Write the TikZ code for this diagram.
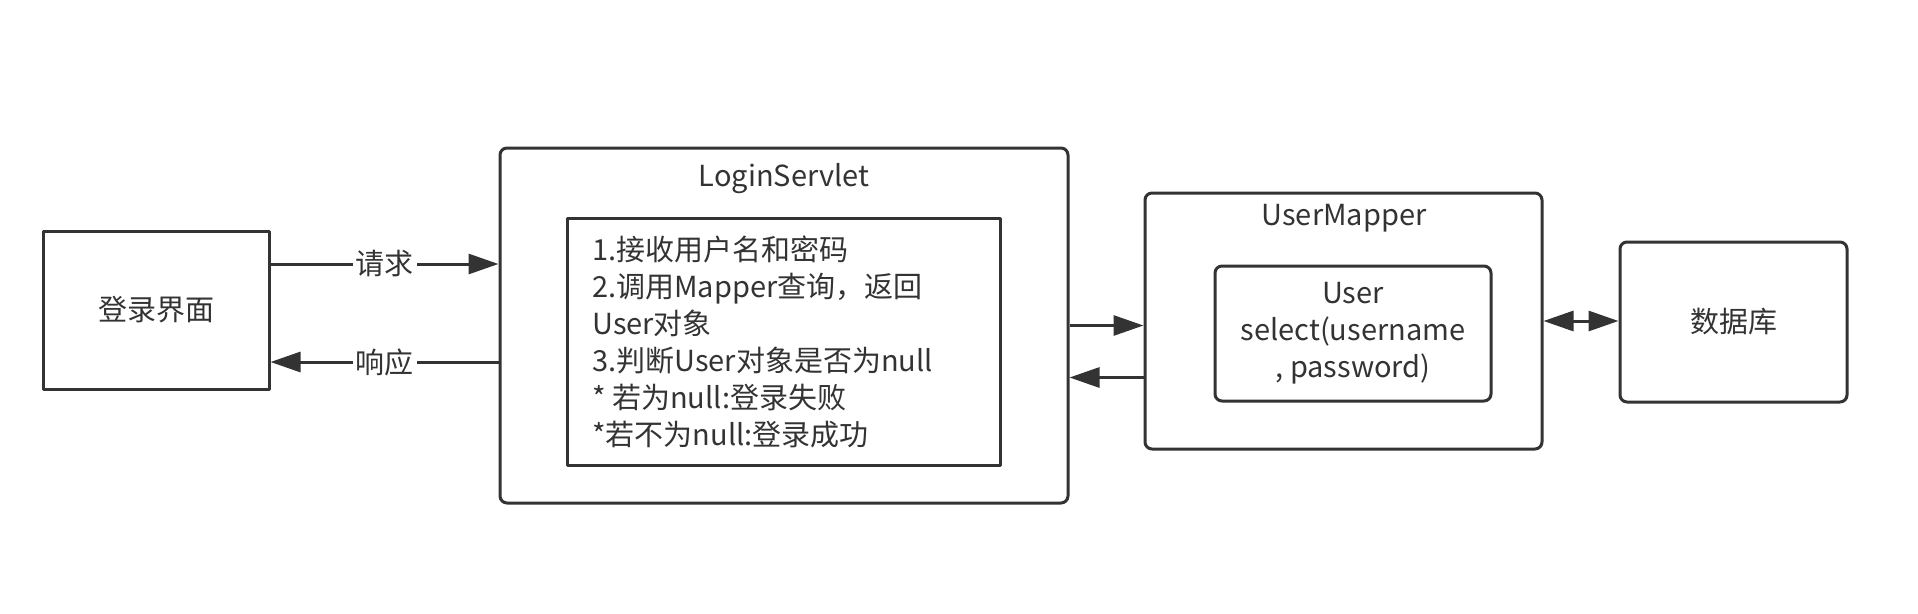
\documentclass[tikz,border=0pt]{standalone}
\usepackage{fontspec}
\setmainfont{Noto Sans CJK SC}
\usetikzlibrary{arrows.meta}
\definecolor{ink}{HTML}{333333}
\begin{document}
\begin{tikzpicture}[x=1pt, y=-1pt, line join=round, font=\fontsize{29}{37}\selectfont,
  box/.style={draw=ink, line width=3pt, inner sep=0pt, text=ink, align=center},
  rbox/.style={box, rounded corners=7pt},
  arr/.style={draw=ink, line width=3pt, -{Triangle[length=30pt,width=20pt]}},
  lbl/.style={fill=white, text=ink, inner sep=3pt}]
  \useasboundingbox (0,0) rectangle (1918,613);
  \node[box, minimum width=226pt, minimum height=158pt] (login) at (156,310) {登录界面};
  \node[rbox, minimum width=568pt, minimum height=355pt] (servlet) at (784,325.5) {};
  \node[box, minimum width=433pt, minimum height=247pt] (steps) at (783.5,341.5) {};
  \node[text=ink, anchor=base] (servlettitle) at (784,186) {LoginServlet};
  \node[text=ink, anchor=base west, align=left, inner sep=0pt] (stepstext) at (592,445)
    {1.接收用户名和密码\\2.调用Mapper查询，返回\\User对象\\3.判断User对象是否为null\\* 若为null:登录失败\\*若不为null:登录成功};
  \node[rbox, minimum width=397pt, minimum height=256pt] (mapper) at (1343.5,321) {};
  \node[text=ink, anchor=base] (mappertitle) at (1344,225) {UserMapper};
  \node[rbox, minimum width=276pt, minimum height=135pt] (select) at (1353,333.5) {User\\select(username\\, password)};
  \node[rbox, minimum width=227pt, minimum height=160pt] (db) at (1733.5,322) {数据库};
  \coordinate (req) at ([yshift=46pt]login.east);
  \coordinate (res) at ([yshift=-52pt]login.east);
  \coordinate (back) at ([yshift=-52pt]servlet.east);
  \draw[arr] (req) -- (req -| servlet.west) node[lbl, midway] {请求};
  \draw[arr] (res -| servlet.west) -- (res) node[lbl, midway] {响应};
  \draw[arr] (servlet.east) -- (servlet.east -| mapper.west);
  \draw[arr] (back -| mapper.west) -- (back);
  \draw[arr, {Triangle[length=30pt,width=20pt]}-{Triangle[length=30pt,width=20pt]}] (mapper.east) -- (mapper.east -| db.west);
\end{tikzpicture}
\end{document}
